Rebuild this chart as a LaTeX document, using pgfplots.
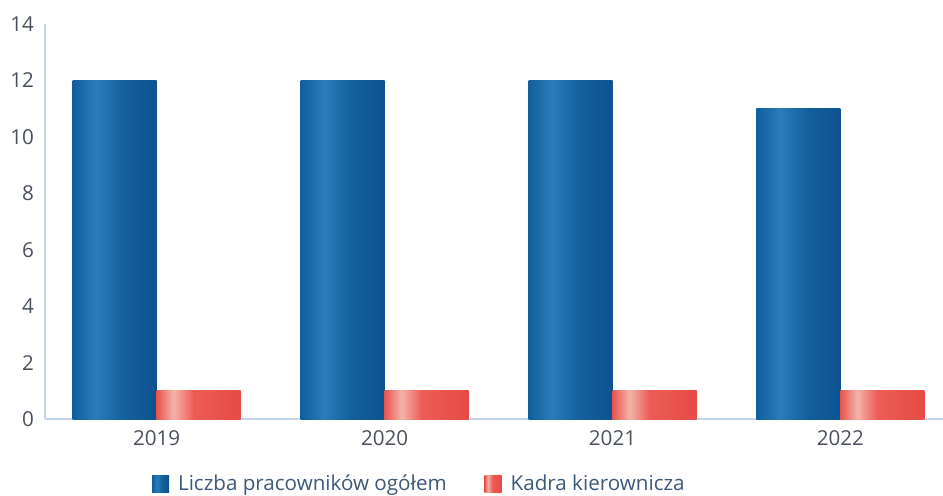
\documentclass[border=0pt]{standalone}
\usepackage{pgfplots}
\pgfplotsset{compat=1.18}
\usepackage{fontspec}
\setmainfont{Open Sans}
\definecolor{b1}{HTML}{115E9C}
\definecolor{b2}{HTML}{2A7DBA}
\definecolor{b3}{HTML}{14609E}
\definecolor{b4}{HTML}{0D5290}
\definecolor{r1}{HTML}{E8544E}
\definecolor{r2}{HTML}{F4B3AA}
\definecolor{r3}{HTML}{EC5C56}
\definecolor{r4}{HTML}{E64A44}
\definecolor{axisline}{HTML}{C5D6EA}
\definecolor{ticktext}{HTML}{4A505C}
\definecolor{legtext}{HTML}{3D5878}
\pgfdeclarehorizontalshading{bluebar}{100bp}{color(0bp)=(b1); color(25bp)=(b1); color(39bp)=(b2); color(55bp)=(b3); color(75bp)=(b4); color(100bp)=(b4)}
\pgfdeclarehorizontalshading{redbar}{100bp}{color(0bp)=(r1); color(25bp)=(r1); color(35bp)=(r2); color(47bp)=(r3); color(75bp)=(r4); color(100bp)=(r4)}
\pgfplotsset{
  bluestyle/.style={draw=none, shade, shading=bluebar, bar shift=-21pt},
  redstyle/.style={draw=none, shade, shading=redbar, bar shift=21pt},
}
\begin{document}
\begin{tikzpicture}
\useasboundingbox (-22.5pt,-38pt) rectangle (449pt,209.5pt);
\begin{axis}[
  scale only axis,
  width=449pt, height=197.5pt,
  ymin=0, ymax=14,
  ytick={0,2,...,14},
  xmin=-0.49, xmax=3.45,
  xtick={0,1,2,3},
  xticklabels={2019,2020,2021,2022},
  ybar, bar width=42pt,
  axis x line*=bottom, axis y line*=left,
  axis line style={draw=axisline, line width=0.8pt, -},
  major tick length=0pt,
  tick style={draw=none},
  ticklabel style={font=\fontsize{10.3}{12}\selectfont, text=ticktext},
  /pgf/number format/assume math mode=true,
  xticklabel style={yshift=-2pt},
  yticklabel style={xshift=-2pt},
  legend style={at={(0.418,-0.165)}, anchor=center, draw=none, fill=none,
    legend columns=2, font=\fontsize{10.3}{12}\selectfont, text=legtext,
    /tikz/every odd column/.append style={column sep=2.5pt},
    /tikz/every even column/.append style={column sep=17pt}},
  legend image code/.code={\path[#1] (0pt,-4.25pt) rectangle (8.5pt,4.25pt);},
  clip=false,
]
\addplot[bluestyle] coordinates {(0,12)};
\addplot[bluestyle, forget plot] coordinates {(1,12)};
\addplot[bluestyle, forget plot] coordinates {(2,12)};
\addplot[bluestyle, forget plot] coordinates {(3,11)};
\addplot[redstyle] coordinates {(0,1)};
\addplot[redstyle, forget plot] coordinates {(1,1)};
\addplot[redstyle, forget plot] coordinates {(2,1)};
\addplot[redstyle, forget plot] coordinates {(3,1)};
\legend{Liczba pracowników ogółem, Kadra kierownicza}
\end{axis}
\end{tikzpicture}
\end{document}
